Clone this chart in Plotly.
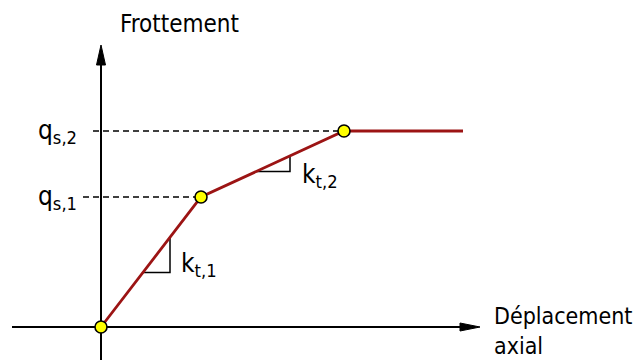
import plotly.graph_objects as go

# Data (units: arbitrary, schematic)
displacement = [0.0, 1.00, 2.43, 3.62]
friction = [0.0, 1.30, 1.96, 1.96]
key_points_idx = [0, 1, 2]
level_labels = ["q<sub>s,1</sub>", "q<sub>s,2</sub>"]
slope_labels = ["k<sub>t,1</sub>", "k<sub>t,2</sub>"]
x_title = "Déplacement<br>axial"
y_title = "Frottement"

FONT = "DejaVu Sans Condensed, DejaVu Sans"
RED = "#9c1414"

fig = go.Figure()

# Curve
fig.add_trace(go.Scatter(x=displacement, y=friction, mode="lines",
                         line=dict(color=RED, width=2.8), hoverinfo="skip"))
fig.add_trace(go.Scatter(x=[displacement[i] for i in key_points_idx],
                         y=[friction[i] for i in key_points_idx], mode="markers",
                         marker=dict(color="#ffff00", size=12,
                                     line=dict(color="black", width=1.6)),
                         hoverinfo="skip"))

shapes = []
# axes lines
shapes.append(dict(type="line", x0=-0.89, x1=3.62, y0=0, y1=0, line=dict(color="black", width=2), layer="below"))
shapes.append(dict(type="line", x0=0, x1=0, y0=-0.4, y1=2.65, line=dict(color="black", width=2), layer="below"))
# arrow heads
shapes.append(dict(type="path", path="M 3.59,0.04 L 3.79,0 L 3.59,-0.04 Z",
                   fillcolor="black", line=dict(color="black", width=1)))
shapes.append(dict(type="path", path="M -0.045,2.62 L 0,2.82 L 0.045,2.62 Z",
                   fillcolor="black", line=dict(color="black", width=1)))
# dashed levels
shapes.append(dict(type="line", x0=-0.18, x1=displacement[1], y0=friction[1], y1=friction[1],
                   line=dict(color="black", width=1.3, dash="6px,4px"), layer="below"))
shapes.append(dict(type="line", x0=-0.08, x1=displacement[2], y0=friction[2], y1=friction[2],
                   line=dict(color="black", width=1.3, dash="6px,4px"), layer="below"))

# slope triangles
def slope_tri(xa, xb, i):
    s = (friction[i + 1] - friction[i]) / (displacement[i + 1] - displacement[i])
    ya = friction[i] + s * (xa - displacement[i])
    yb = friction[i] + s * (xb - displacement[i])
    return dict(type="path", path=f"M {xa},{ya} L {xb},{ya} L {xb},{yb}",
                line=dict(color="black", width=1.5), layer="below")

shapes.append(slope_tri(0.42, 0.69, 0))
shapes.append(slope_tri(1.55, 1.89, 1))

annotations = [
    dict(x=0.78, y=3.03, text=y_title, showarrow=False, xanchor="center",
         font=dict(family=FONT, size=24, color="black")),
    dict(x=3.91, y=0.26, text=x_title, showarrow=False, xanchor="left", yanchor="top",
         align="left", font=dict(family=FONT, size=23, color="black")),
    dict(x=-0.22, y=friction[1], text=level_labels[0], showarrow=False, xanchor="right",
         font=dict(family=FONT, size=26, color="black")),
    dict(x=-0.22, y=friction[2], text=level_labels[1], showarrow=False, xanchor="right",
         font=dict(family=FONT, size=26, color="black")),
    dict(x=0.78, y=0.63, text=slope_labels[0], showarrow=False, xanchor="left",
         font=dict(family=FONT, size=26, color="black")),
    dict(x=1.99, y=1.52, text=slope_labels[1], showarrow=False, xanchor="left",
         font=dict(family=FONT, size=26, color="black")),
]

fig.update_layout(
    width=638, height=360,
    margin=dict(l=0, r=0, t=0, b=0),
    paper_bgcolor="white", plot_bgcolor="white",
    showlegend=False,
    shapes=shapes, annotations=annotations,
    xaxis=dict(range=[-1.01, 5.37], visible=False, fixedrange=True),
    yaxis=dict(range=[-0.33, 3.27], visible=False, fixedrange=True),
)

fig.write_html("out.html", config={"displayModeBar": False},
               post_script="document.body.style.margin='0';document.body.style.overflow='hidden';")
